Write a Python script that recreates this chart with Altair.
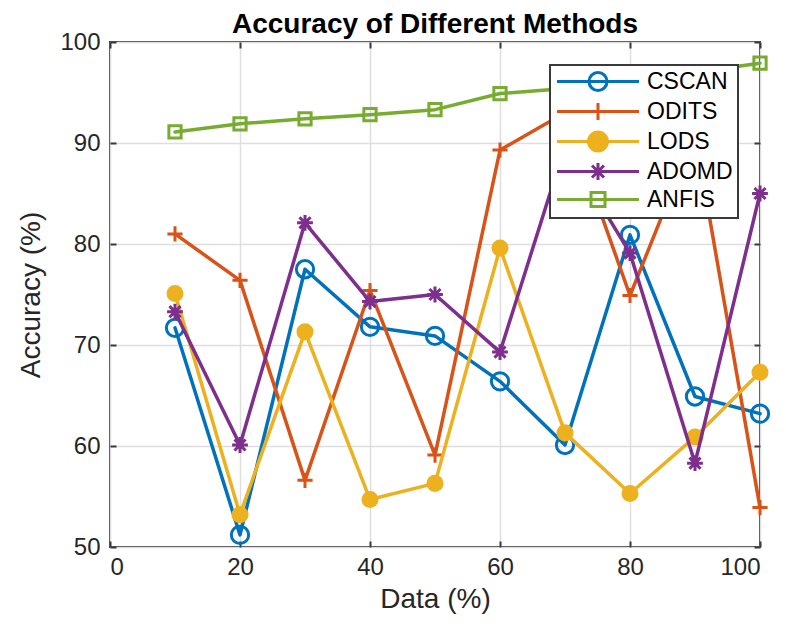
import altair as alt
import pandas as pd

# ---- data ----
x_vals = [10, 20, 30, 40, 50, 60, 70, 80, 90, 100]
cscan = [71.7, 51.2, 77.5, 71.8, 70.9, 66.4, 60.1, 80.9, 64.9, 63.2]
odits = [81.0, 76.4, 56.6, 75.4, 59.1, 89.3, 93.0, 74.9, 90.9, 53.9]
lods = [75.1, 53.2, 71.3, 54.7, 56.3, 79.6, 61.3, 55.3, 60.9, 67.3]
adomd = [73.3, 60.1, 82.1, 74.3, 75.0, 69.3, 89.7, 79.1, 58.3, 85.0]
anfis = [91.1, 91.9, 92.4, 92.8, 93.3, 94.9, 95.4, 96.2, 97.0, 97.9]

methods = ["CSCAN", "ODITS", "LODS", "ADOMD", "ANFIS"]
colors = ["#0072BD", "#D95319", "#EDB120", "#7E2F8E", "#77AC30"]
x_ticks = [0, 20, 40, 60, 80, 100]
y_ticks = [50, 60, 70, 80, 90, 100]

series = {"CSCAN": cscan, "ODITS": odits, "LODS": lods, "ADOMD": adomd, "ANFIS": anfis}
rows = [{"data": x, "acc": v, "method": m}
        for m in methods for x, v in zip(x_vals, series[m])]
df = pd.DataFrame(rows)

W, H = 650, 505
FONT = "Liberation Sans"
AX = "#3a3a3a"

xs = alt.Scale(domain=[0, 100], nice=False, zero=False)
ys = alt.Scale(domain=[50, 100], nice=False, zero=False)

# marker shapes for the plot
plus_path = "M-1,0H1M0,-1V1"
star_path = "M-1,0H1M0,-1V1M-0.7,-0.7L0.7,0.7M-0.7,0.7L0.7,-0.7"
marker_shape = {"CSCAN": "circle", "ODITS": plus_path, "LODS": "circle",
                "ADOMD": star_path, "ANFIS": "square"}
marker_size = {"CSCAN": 300, "ODITS": 230, "LODS": 290, "ADOMD": 250, "ANFIS": 150}
marker_filled = {"CSCAN": False, "ODITS": False, "LODS": True, "ADOMD": False, "ANFIS": False}

# legend symbols: line + marker (unit = 10 px, symbol box 20 px)
def circ(cx, r):
    return (f"M{cx + r:.3f},0A{r},{r},0,1,1,{cx - r:.3f},0"
            f"A{r},{r},0,1,1,{cx + r:.3f},0")

L0, L1, C = -0.95, 7.25, 3.15
line_part = f"M{L0},0H{L1}"
legend_paths = [
    line_part + circ(C, 0.9),
    line_part + f"M{C},-0.85V0.85",
    line_part + circ(C, 0.95) + circ(C, 0.72) + circ(C, 0.49) + circ(C, 0.26) + circ(C, 0.07),
    line_part + f"M{C},-0.85V0.85M{C - 0.6:.3f},-0.6L{C + 0.6:.3f},0.6"
                f"M{C - 0.6:.3f},0.6L{C + 0.6:.3f},-0.6",
    line_part + f"M{C - 0.7:.3f},-0.7H{C + 0.7:.3f}V0.7H{C - 0.7:.3f}Z",
]

main_x = alt.Axis(values=x_ticks, grid=True, ticks=False, domain=False,
                  labelPadding=8, titlePadding=6, format="d")
main_y = alt.Axis(values=y_ticks, grid=True, ticks=False, domain=False,
                  labelPadding=10, titlePadding=14, format="d")

def tick_axis(orient, values, offset):
    return alt.Axis(orient=orient, offset=offset, values=values, labels=False,
                    ticks=True, tickSize=6, tickWidth=2, tickColor=AX,
                    grid=False, domain=False)

layers = []
for i, m in enumerate(methods):
    base = alt.Chart(df).transform_filter(alt.datum.method == m)
    if i == 0:
        lx = alt.X("data:Q", scale=xs, axis=main_x, title="Data (%)")
        ly = alt.Y("acc:Q", scale=ys, axis=main_y, title="Accuracy (%)")
        px = alt.X("data:Q", scale=xs, axis=tick_axis("top", x_ticks, -H), title=None)
        py = alt.Y("acc:Q", scale=ys, axis=tick_axis("right", y_ticks, -W), title=None)
    elif i == 1:
        lx = alt.X("data:Q", scale=xs, axis=tick_axis("bottom", x_ticks, -H), title=None)
        ly = alt.Y("acc:Q", scale=ys, axis=tick_axis("left", y_ticks, -W), title=None)
        px = alt.X("data:Q", scale=xs, axis=None)
        py = alt.Y("acc:Q", scale=ys, axis=None)
    else:
        lx = alt.X("data:Q", scale=xs, axis=None)
        ly = alt.Y("acc:Q", scale=ys, axis=None)
        px = alt.X("data:Q", scale=xs, axis=None)
        py = alt.Y("acc:Q", scale=ys, axis=None)
    line = base.mark_line(color=colors[i], strokeWidth=3.5, strokeJoin="round",
                          strokeCap="round").encode(x=lx, y=ly)
    if marker_filled[m]:
        pts = base.mark_point(shape=marker_shape[m], size=marker_size[m], filled=True,
                              color=colors[i], opacity=1, strokeWidth=0)
    else:
        pts = base.mark_point(shape=marker_shape[m], size=marker_size[m], filled=False,
                              color=colors[i], opacity=1, strokeWidth=3)
    pts = pts.encode(x=px, y=py)
    layers += [line, pts]

legend_layer = (
    alt.Chart(df)
    .transform_filter("datum.data < 0")
    .mark_point(filled=False, opacity=1, strokeWidth=3)
    .encode(
        x=alt.X("data:Q", scale=xs, axis=None),
        y=alt.Y("acc:Q", scale=ys, axis=None),
        color=alt.Color("method:N", scale=alt.Scale(domain=methods, range=colors),
                        legend=alt.Legend(title=None)),
        shape=alt.Shape("method:N", scale=alt.Scale(domain=methods, range=legend_paths),
                        legend=alt.Legend(title=None)),
    )
)
layers.append(legend_layer)

chart = (
    alt.layer(*layers)
    .resolve_axis(x="independent", y="independent")
    .properties(
        width=W, height=H,
        title=alt.TitleParams("Accuracy of Different Methods"),
        autosize=alt.AutoSizeParams(type="none"),
        padding={"left": 102, "top": 34, "right": 18, "bottom": 73},
    )
    .configure_view(stroke=AX, strokeWidth=2)
    .configure_axis(
        labelFont=FONT, titleFont=FONT, labelFontSize=24, titleFontSize=28,
        labelColor="#262626", titleColor="#262626", titleFontWeight="normal",
        gridColor="#dedede", gridWidth=1.5,
    )
    .configure_legend(
        orient="none", legendX=440, legendY=23, padding=5,
        strokeColor=AX, strokeWidth=2, fillColor="white",
        labelFont=FONT, labelFontSize=23, labelColor="black",
        symbolSize=400, symbolStrokeWidth=3, labelOffset=69, rowPadding=0,
    )
    .configure_title(font=FONT, fontSize=28, fontWeight="bold", anchor="middle",
                     offset=-9, color="black")
)

chart.save("out.html", embed_options={"renderer": "svg", "actions": False})
